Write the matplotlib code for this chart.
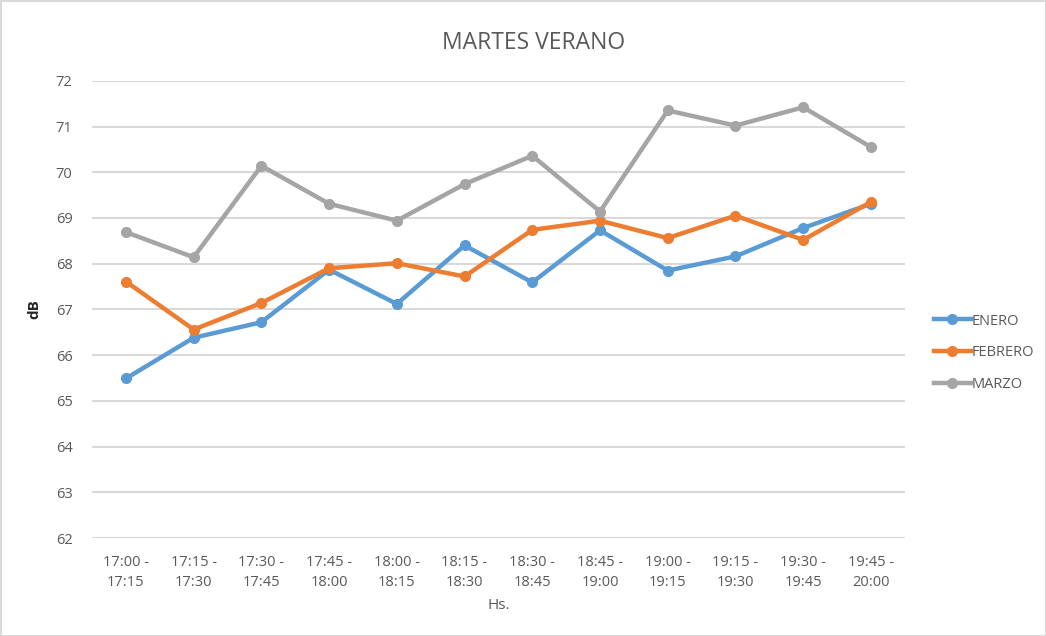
import matplotlib.pyplot as plt

categories = ['17:00 -\n17:15', '17:15 -\n17:30', '17:30 -\n17:45', '17:45 -\n18:00',
              '18:00 -\n18:15', '18:15 -\n18:30', '18:30 -\n18:45', '18:45 -\n19:00',
              '19:00 -\n19:15', '19:15 -\n19:30', '19:30 -\n19:45', '19:45 -\n20:00']
enero = [65.49, 66.38, 66.72, 67.87, 67.12, 68.40, 67.59, 68.73, 67.85, 68.16, 68.78, 69.31]
febrero = [67.61, 66.56, 67.14, 67.90, 68.01, 67.72, 68.74, 68.94, 68.56, 69.05, 68.52, 69.35]
marzo = [68.69, 68.14, 70.14, 69.31, 68.94, 69.74, 70.36, 69.14, 71.35, 71.02, 71.42, 70.55]
yticks = list(range(62, 73))

plt.rcParams['font.family'] = ['Open Sans', 'DejaVu Sans']
txt = '#595959'

fig = plt.figure(figsize=(10.46, 6.36), dpi=100)
fig.patch.set_edgecolor('#D9D9D9')
fig.patch.set_linewidth(2)
ax = fig.add_axes((0.088, 0.154, 0.777, 0.719))

x = range(len(categories))
ax.plot(x, enero, color='#5B9BD5', lw=3.2, marker='o', ms=7, label='ENERO')
ax.plot(x, febrero, color='#ED7D31', lw=3.2, marker='o', ms=7, label='FEBRERO')
ax.plot(x, marzo, color='#A5A5A5', lw=3.2, marker='o', ms=7, label='MARZO')

ax.set_xlim(-0.5, len(categories) - 0.5)
ax.set_ylim(62, 72)
ax.set_yticks(yticks)
ax.set_xticks(list(x))
ax.set_xticklabels(categories, fontsize=10.5, color=txt, linespacing=1.45)
ax.tick_params(axis='y', labelsize=10.5, labelcolor=txt, length=0, pad=14)
ax.tick_params(axis='x', length=0, pad=12)
ax.grid(axis='y', color='#D9D9D9', lw=1.5)
ax.set_axisbelow(True)
for s in ax.spines.values():
    s.set_visible(False)

fig.text(0.51, 0.932, 'MARTES VERANO', fontsize=16.5, color=txt, ha='center', va='center')
ax.set_xlabel('Hs.', fontsize=11, color=txt, labelpad=6)
ax.set_ylabel('dB', fontsize=11, color='#262626', fontweight='bold', labelpad=10)

ax.legend(loc='center left', bbox_to_anchor=(1.02, 0.405), frameon=False,
          fontsize=10.5, labelcolor=txt, handlelength=2.5, handletextpad=0.1,
          labelspacing=1.15)

fig.savefig('out.png', dpi=100)
